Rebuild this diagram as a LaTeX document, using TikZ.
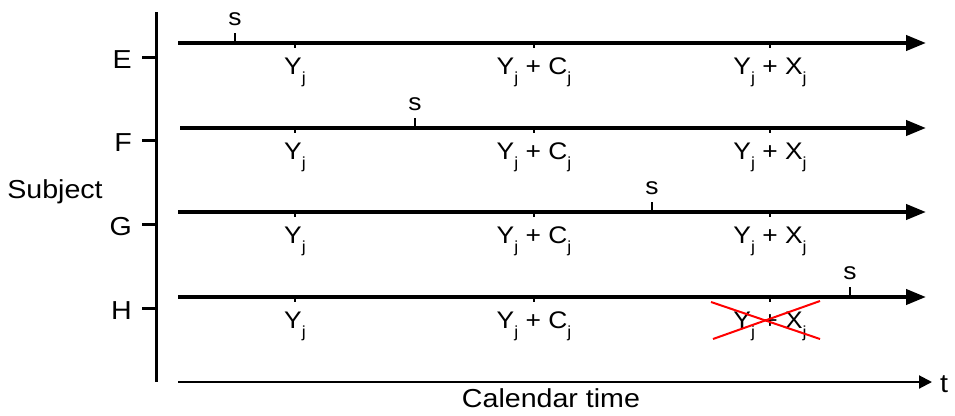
\documentclass[tikz,border=0pt]{standalone}
\usepackage{fontspec}
\setmainfont{Liberation Sans}
\usetikzlibrary{arrows.meta}
\newcommand\lowsub[1]{\raisebox{-9pt}{\fontsize{16}{16}\selectfont #1}}
\tikzset{
  lbl/.style={font=\fontsize{24}{28}\selectfont, inner sep=0pt, xscale=1.1},
  biglbl/.style={font=\fontsize{26}{30}\selectfont, inner sep=0pt, xscale=1.1},
  timeline/.style={line width=4pt, -{Triangle[length=20pt,width=15pt]}},
  tickmark/.style={line width=2pt},
  axis/.style={line width=3pt},
  cross/.style={red, line width=2pt},
}
\begin{document}
\begin{tikzpicture}[x=1pt,y=-1pt]
\useasboundingbox (0,0) rectangle (955,415);

% vertical subject axis
\coordinate (vtop) at (156,12);
\coordinate (vbot) at (156,382);
\draw[axis] (vtop) -- (vbot);
\node[biglbl, anchor=base] (subj) at (55,198) {Subject};

% calendar time axis
\coordinate (cstart) at (178,382);
\coordinate (cend) at (932,382);
\draw[line width=2pt, -{Triangle[length=13pt,width=13pt]}] (cstart) -- (cend);
\node[biglbl, anchor=base west] (tlab) at (940,392) {t};
\node[biglbl, anchor=base] (ctime) at (551,407) {Calendar time};

% one timeline per subject: name, line y, y of the axis tick, x of s
\foreach \name/\ly/\ty/\sx/\lx in {E/43/57/235/178, F/128/140/415/180, G/212/224/652/178, H/297/308/850/178}{
  \coordinate (\name a) at (142,\ty);
  \coordinate (\name b) at (156,\ty);
  \draw[axis] (\name a) -- (\name b);
  \node[biglbl, anchor=base east] (\name lab) at (132,\ty+11) {\name};

  \coordinate (\name start) at (\lx,\ly);
  \coordinate (\name end) at (926,\ly);
  \draw[timeline] (\name start) -- (\name end);

  % event time s
  \coordinate (\name s0) at (\sx,\ly);
  \coordinate (\name s1) at (\sx,\ly-10);
  \draw[tickmark] (\name s0) -- (\name s1);
  \node[lbl, anchor=base] (\name slab) at (\sx,\ly-18) {s};

  % marks below the line
  \foreach \k/\px/\txt in {y/295/{Y\lowsub{j}}, c/534/{Y\lowsub{j} + C\lowsub{j}}, x/770/{Y\lowsub{j} + X\lowsub{j}}}{
    \coordinate (\name\k0) at (\px,\ly);
    \coordinate (\name\k1) at (\px,\ly+5);
    \draw[tickmark] (\name\k0) -- (\name\k1);
    \node[lbl, anchor=base] (\name\k lab) at (\px,\ly+31) {\txt};
  }
}

% crossed-out mark on H
\coordinate (xa) at (711,302);
\coordinate (xb) at (820,339);
\coordinate (xc) at (713,339);
\coordinate (xd) at (820,301);
\draw[cross] (xa) -- (xb);
\draw[cross] (xc) -- (xd);
\end{tikzpicture}
\end{document}
